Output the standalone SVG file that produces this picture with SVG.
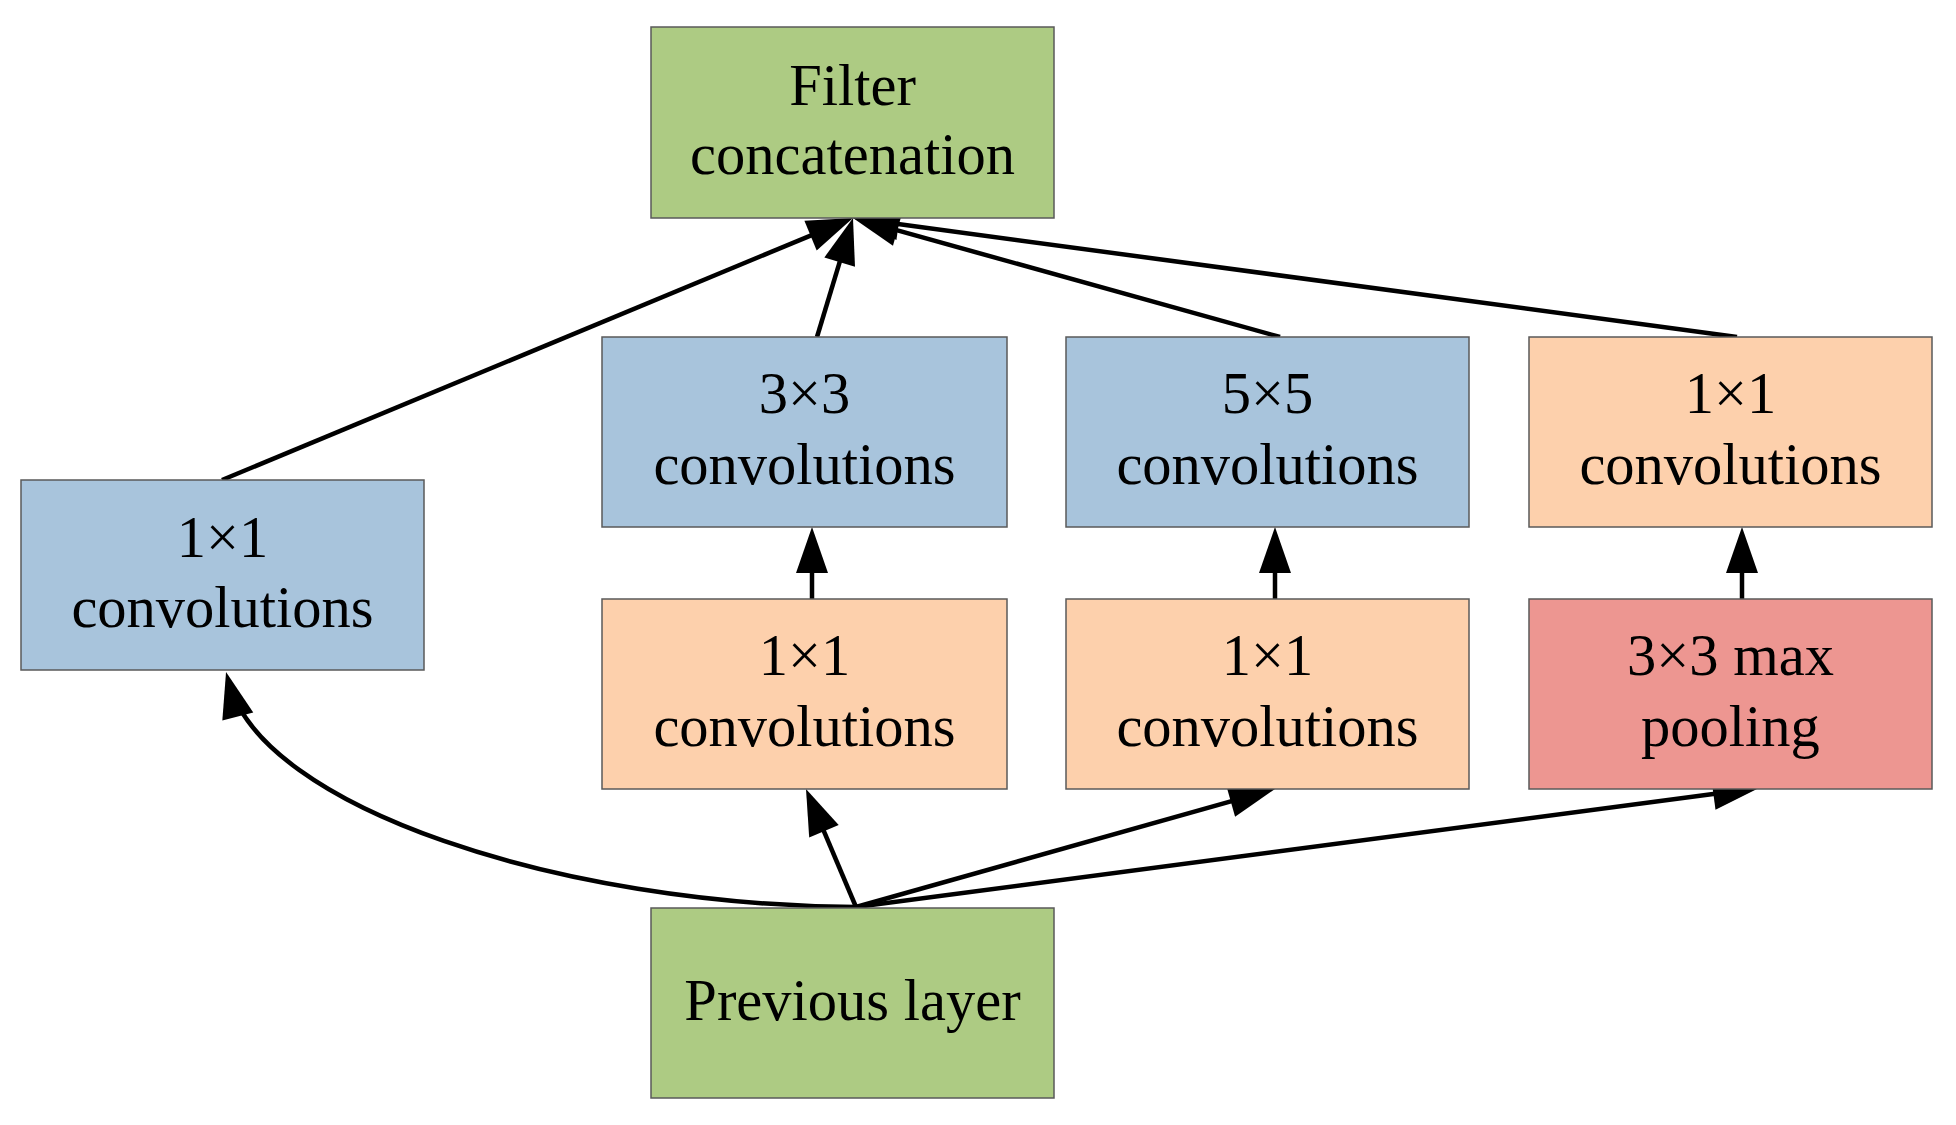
<svg xmlns="http://www.w3.org/2000/svg" width="1956" height="1125" viewBox="0 0 1956 1125">
<style>
.box{stroke:#5a5a5a;stroke-width:1.5}
.green{fill:#ADCB83}
.blue{fill:#A8C4DC}
.peach{fill:#FDD0AC}
.pink{fill:#ED9691}
.lbl{font-family:"Liberation Serif","Times New Roman",serif;font-size:58.5px;fill:#000;text-anchor:middle}
.edge{fill:none;stroke:#000;stroke-width:4.5}
</style>
<defs>
<marker id="ah" markerUnits="userSpaceOnUse" markerWidth="50" markerHeight="36" refX="36" refY="16" orient="auto" overflow="visible">
<path d="M0,0 L46,16 L0,32 z" fill="#000"/>
</marker>
</defs>
<rect width="1956" height="1125" fill="#fff"/>
<g id="connectors">
<line class="edge" x1="222" y1="480" x2="843.8" y2="221.8" marker-end="url(#ah)"/>
<line class="edge" x1="817" y1="337" x2="850.1" y2="227.6" marker-end="url(#ah)"/>
<line class="edge" x1="1280" y1="337" x2="862.6" y2="220.7" marker-end="url(#ah)"/>
<line class="edge" x1="1737" y1="337" x2="862.9" y2="219.3" marker-end="url(#ah)"/>
<line class="edge" x1="812" y1="599" x2="812" y2="537" marker-end="url(#ah)"/>
<line class="edge" x1="1275" y1="599" x2="1275" y2="537" marker-end="url(#ah)"/>
<line class="edge" x1="1742" y1="599" x2="1742" y2="537" marker-end="url(#ah)"/>
<line class="edge" x1="856" y1="907" x2="809.9" y2="798.2" marker-end="url(#ah)"/>
<line class="edge" x1="856" y1="907" x2="1265.4" y2="791.7" marker-end="url(#ah)"/>
<line class="edge" x1="856" y1="907" x2="1749.1" y2="789.3" marker-end="url(#ah)"/>
<path class="edge" d="M856,907 C560,905 262,808 228.6,681.7" marker-end="url(#ah)"/>
</g>
<g id="filter-concat">
<rect class="box green" x="651" y="27" width="403" height="191"/>
<text class="lbl" x="852.5" y="105">Filter</text>
<text class="lbl" x="852.5" y="174">concatenation</text>
</g>
<g id="conv1x1-left">
<rect class="box blue" x="21" y="480" width="403" height="190"/>
<text class="lbl" x="222.5" y="557">1×1</text>
<text class="lbl" x="222.5" y="627">convolutions</text>
</g>
<g id="conv3x3">
<rect class="box blue" x="602" y="337" width="405" height="190"/>
<text class="lbl" x="804.5" y="413">3×3</text>
<text class="lbl" x="804.5" y="484">convolutions</text>
</g>
<g id="conv5x5">
<rect class="box blue" x="1066" y="337" width="403" height="190"/>
<text class="lbl" x="1267.5" y="413">5×5</text>
<text class="lbl" x="1267.5" y="484">convolutions</text>
</g>
<g id="conv1x1-right-top">
<rect class="box peach" x="1529" y="337" width="403" height="190"/>
<text class="lbl" x="1730.5" y="413">1×1</text>
<text class="lbl" x="1730.5" y="484">convolutions</text>
</g>
<g id="conv1x1-mid-a">
<rect class="box peach" x="602" y="599" width="405" height="190"/>
<text class="lbl" x="804.5" y="675">1×1</text>
<text class="lbl" x="804.5" y="746">convolutions</text>
</g>
<g id="conv1x1-mid-b">
<rect class="box peach" x="1066" y="599" width="403" height="190"/>
<text class="lbl" x="1267.5" y="675">1×1</text>
<text class="lbl" x="1267.5" y="746">convolutions</text>
</g>
<g id="maxpool">
<rect class="box pink" x="1529" y="599" width="403" height="190"/>
<text class="lbl" x="1730.5" y="675">3×3 max</text>
<text class="lbl" x="1730.5" y="746">pooling</text>
</g>
<g id="previous-layer">
<rect class="box green" x="651" y="908" width="403" height="190"/>
<text class="lbl" x="852.5" y="1020">Previous layer</text>
</g>
</svg>
